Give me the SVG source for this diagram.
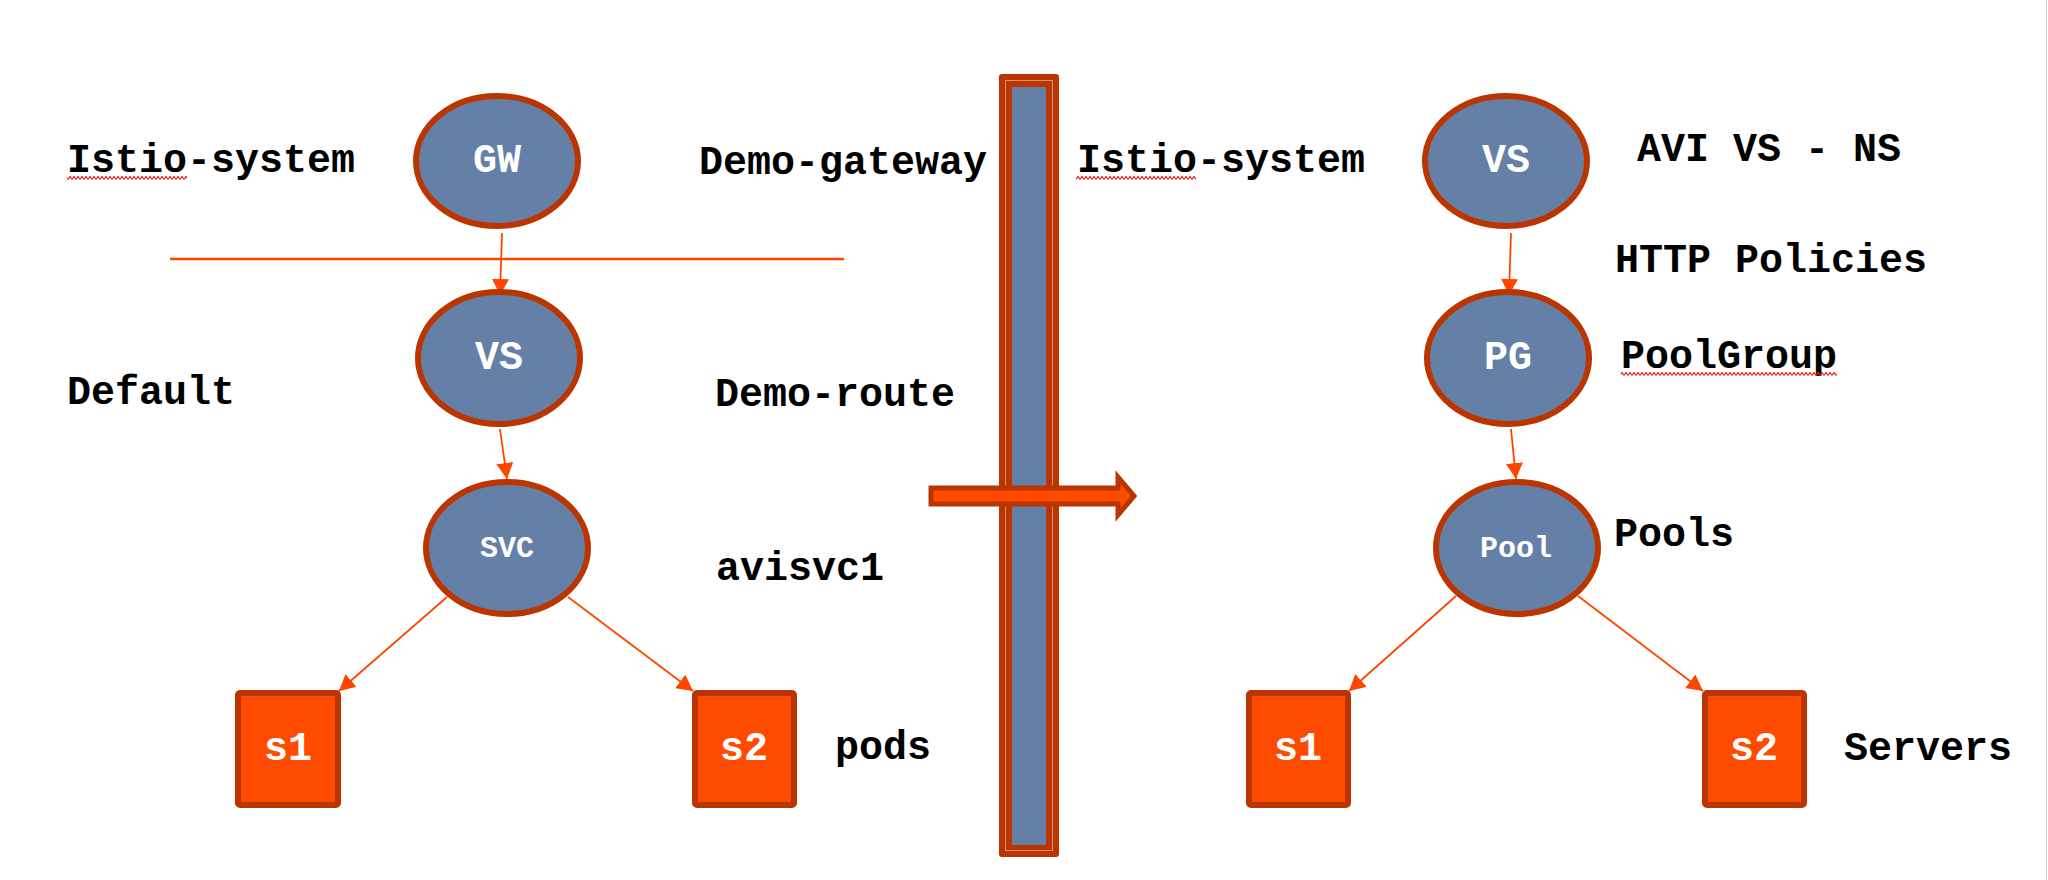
<svg xmlns="http://www.w3.org/2000/svg" width="2048" height="880" viewBox="0 0 2048 880">
  <defs>
    <style>
      .node ellipse { fill: #6480a6; stroke: #bb3500; stroke-width: 6; }
      .box rect { fill: #ff4b00; stroke: #bb3500; stroke-width: 6; }
      .ntext { font-family: "Liberation Mono", "Courier New", monospace; font-weight: bold; fill: #ffffff; text-anchor: middle; }
      .big { font-size: 40px; }
      .small { font-size: 30px; }
      .label { font-family: "Liberation Mono", "Courier New", monospace; font-weight: bold; font-size: 40px; fill: #000000; }
      .conn line { stroke: #ff4500; stroke-width: 1.8; fill: none; }
    </style>
    <marker id="arrow" markerUnits="userSpaceOnUse" markerWidth="18" markerHeight="18" refX="16" refY="8.5" orient="auto">
      <path d="M0,0 L16,8.5 L0,17 z" fill="#ff4500"/>
    </marker>
    <pattern id="squig" width="4" height="4" patternUnits="userSpaceOnUse">
      <path d="M0,3.5 L2,0.5 L4,3.5" stroke="#e8201a" stroke-width="1.2" fill="none"/>
    </pattern>
  </defs>

  <rect x="0" y="0" width="2048" height="880" fill="#ffffff"/>
  <line x1="2046.5" y1="0" x2="2046.5" y2="880" stroke="#d0d0d0" stroke-width="1"/>

  <!-- divider line -->
  <line id="divider" x1="170" y1="259" x2="844" y2="259" stroke="#ff4500" stroke-width="2.5"/>

  <!-- vertical bar -->
  <g id="bar">
    <rect x="999" y="74" width="60" height="783" rx="3" fill="#bb3500"/>
    <rect x="1005.5" y="80.5" width="47" height="770" fill="none" stroke="#d39078" stroke-width="1"/>
    <rect x="1012" y="87" width="34" height="758" fill="#6480a6"/>
  </g>

  <!-- big transform arrow -->
  <g id="transform-arrow">
    <polygon points="931,488 1118,488 1118,477 1134,496 1118,515 1118,504 931,504" fill="#ff4b00" stroke="#bb3500" stroke-width="5" stroke-linejoin="miter"/>
  </g>

  <!-- connectors -->
  <g id="connectors" class="conn">
    <line x1="502" y1="233" x2="500" y2="295" marker-end="url(#arrow)"/>
    <line x1="500" y1="429" x2="507" y2="479" marker-end="url(#arrow)"/>
    <line x1="447" y1="597" x2="339" y2="691" marker-end="url(#arrow)"/>
    <line x1="568" y1="597" x2="693" y2="691" marker-end="url(#arrow)"/>
    <line x1="1511" y1="233" x2="1509" y2="295" marker-end="url(#arrow)"/>
    <line x1="1511" y1="429" x2="1516" y2="479" marker-end="url(#arrow)"/>
    <line x1="1456" y1="596" x2="1349" y2="691" marker-end="url(#arrow)"/>
    <line x1="1578" y1="596" x2="1703" y2="691" marker-end="url(#arrow)"/>
  </g>

  <!-- left nodes -->
  <g id="gw" class="node">
    <ellipse cx="497" cy="161" rx="81" ry="65"/>
    <text x="497" y="172" class="ntext big">GW</text>
  </g>
  <g id="vs-left" class="node">
    <ellipse cx="499" cy="358" rx="81" ry="66"/>
    <text x="499" y="369" class="ntext big">VS</text>
  </g>
  <g id="svc" class="node">
    <ellipse cx="507" cy="548" rx="81" ry="66"/>
    <text x="507" y="557" class="ntext small">SVC</text>
  </g>
  <g id="s1-left" class="box">
    <rect x="238" y="693" width="100" height="112" rx="2"/>
    <text x="288" y="760" class="ntext big">s1</text>
  </g>
  <g id="s2-left" class="box">
    <rect x="695" y="693" width="99" height="112" rx="2"/>
    <text x="744" y="760" class="ntext big">s2</text>
  </g>

  <!-- right nodes -->
  <g id="vs-right" class="node">
    <ellipse cx="1506" cy="161" rx="81" ry="65"/>
    <text x="1506" y="172" class="ntext big">VS</text>
  </g>
  <g id="pg" class="node">
    <ellipse cx="1508" cy="358" rx="81" ry="66"/>
    <text x="1508" y="369" class="ntext big">PG</text>
  </g>
  <g id="pool" class="node">
    <ellipse cx="1517" cy="548" rx="81" ry="66"/>
    <text x="1516" y="557" class="ntext small">Pool</text>
  </g>
  <g id="s1-right" class="box">
    <rect x="1249" y="693" width="99" height="112" rx="2"/>
    <text x="1298" y="760" class="ntext big">s1</text>
  </g>
  <g id="s2-right" class="box">
    <rect x="1705" y="693" width="99" height="112" rx="2"/>
    <text x="1754" y="760" class="ntext big">s2</text>
  </g>

  <!-- labels -->
  <g id="labels">
    <text x="67" y="172" class="label">Istio-system</text>
    <text x="699" y="174" class="label">Demo-gateway</text>
    <text x="67" y="404" class="label">Default</text>
    <text x="715" y="406" class="label">Demo-route</text>
    <text x="716" y="580" class="label">avisvc1</text>
    <text x="835" y="759" class="label">pods</text>
    <text x="1077" y="172" class="label">Istio-system</text>
    <text x="1637" y="161" class="label">AVI VS - NS</text>
    <text x="1615" y="272" class="label">HTTP Policies</text>
    <text x="1621" y="368" class="label">PoolGroup</text>
    <text x="1614" y="546" class="label">Pools</text>
    <text x="1844" y="760" class="label">Servers</text>
  </g>

  <!-- spell-check squiggles -->
  <g id="squiggles">
    <rect x="67" y="176" width="120" height="4" fill="url(#squig)"/>
    <rect x="1076" y="176" width="120" height="4" fill="url(#squig)"/>
    <rect x="1621" y="372" width="216" height="4" fill="url(#squig)"/>
  </g>
</svg>
